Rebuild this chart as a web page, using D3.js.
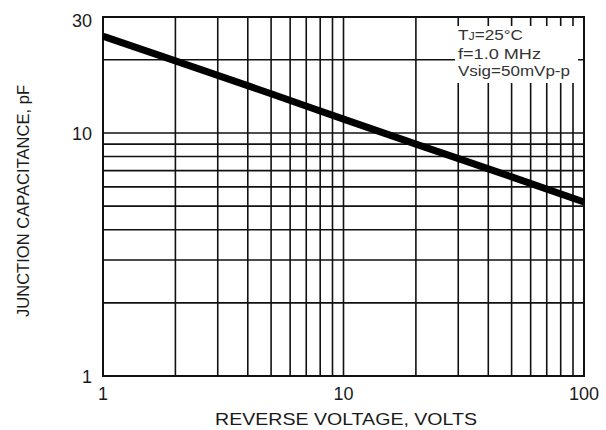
<!DOCTYPE html>
<html><head><meta charset="utf-8">
<script src="https://cdn.jsdelivr.net/npm/d3@7"></script>
<style>body{margin:0;background:#fff}svg{display:block}text{font-family:"Liberation Sans",Arial,sans-serif;fill:#1a1a1a}</style>
</head><body><svg id="c" width="606" height="430"></svg>
<script>
const voltage = [1, 2, 5, 10, 20, 50, 100];
const capacitance = [25.0, 19.8, 14.5, 11.4, 9.0, 6.6, 5.2];
const xGrid = [2,3,4,5,6,7,8,9,10,20,30,40,50,60,70,80,90];
const yGrid = [2,3,4,5,6,7,8,9,10,20];
const xTickLabels = [1, 10, 100];
const yTickLabels = [1, 10, 30];
const notes = ["T|J|=25°C", "f=1.0 MHz", "Vsig=50mVp-p"];

const svg = d3.select("#c");
const L=103,R=584,T=17,B=376;
const x = d3.scaleLog().domain([1,100]).range([L,R]);
const y = d3.scaleLog().domain([1,30]).range([B,T]);

const g = svg.append("g");
g.selectAll(".vx").data(xGrid).join("line")
 .attr("x1",d=>x(d)).attr("x2",d=>x(d)).attr("y1",T).attr("y2",B)
 .attr("stroke","#111").attr("stroke-width",1.6);
g.selectAll(".hy").data(yGrid).join("line")
 .attr("y1",d=>y(d)).attr("y2",d=>y(d)).attr("x1",L).attr("x2",R)
 .attr("stroke","#111").attr("stroke-width",1.6);

// annotation box
svg.append("rect").attr("x",455).attr("y",26).attr("width",123).attr("height",57).attr("fill","#fff");

svg.append("rect").attr("x",L).attr("y",T).attr("width",R-L).attr("height",B-T)
 .attr("fill","none").attr("stroke","#111").attr("stroke-width",2);

const line = d3.line().x(d=>x(d[0])).y(d=>y(d[1])).curve(d3.curveMonotoneX);
svg.append("path").datum(voltage.map((v,i)=>[v,capacitance[i]]))
 .attr("d",line).attr("fill","none").attr("stroke","#000").attr("stroke-width",7);

// annotation text
const nb=[40,58.5,76];
const nw=[65,83,112];
notes.forEach((t,i)=>{
  const tx = svg.append("text").attr("x",458).attr("y",nb[i]).attr("font-size",15).style("fill","#333");
  if(t.includes("|")){
    const p=t.split("|");
    tx.append("tspan").text(p[0]);
    tx.append("tspan").attr("font-size",11).text(p[1]);
    tx.append("tspan").text(p[2]);
  } else tx.text(t);
  tx.attr("textLength",nw[i]).attr("lengthAdjust","spacingAndGlyphs");
});

// tick labels
const yOff = {30:4, 10:1, 1:1};
svg.selectAll(".yl").data(yTickLabels).join("text")
 .attr("x",92).attr("y",d=>y(d)+yOff[d]).attr("text-anchor","end").attr("dominant-baseline","central")
 .attr("font-size",18).text(d=>d);
svg.selectAll(".xl").data(xTickLabels).join("text")
 .attr("x",d=>x(d)).attr("y",394).attr("text-anchor","middle").attr("dominant-baseline","central")
 .attr("font-size",18).text(d=>d);

svg.append("text").attr("x",346).attr("y",425).attr("text-anchor","middle")
 .attr("font-size",17).attr("textLength",262).attr("lengthAdjust","spacingAndGlyphs")
 .text("REVERSE VOLTAGE, VOLTS");
svg.append("text").attr("transform","translate(29,201) rotate(-90)").attr("text-anchor","middle")
 .attr("font-size",17).attr("textLength",232).attr("lengthAdjust","spacingAndGlyphs")
 .text("JUNCTION CAPACITANCE, pF");
</script></body></html>
